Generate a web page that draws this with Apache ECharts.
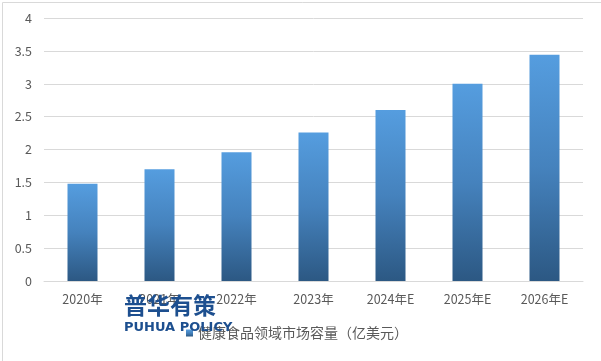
<!DOCTYPE html>
<html><head><meta charset="utf-8">
<script src="https://cdn.jsdelivr.net/npm/echarts@6/dist/echarts.min.js"></script>
<style>html,body{margin:0;padding:0;background:#fff}#c{width:601px;height:361px}</style>
</head><body><div id="c"></div>
<script>
const categories = ['2020年','2021年','2022年','2023年','2024年E','2025年E','2026年E'];
const values = [1.48, 1.70, 1.96, 2.26, 2.60, 3.00, 3.44];
const seriesName = '健康食品领域市场容量（亿美元）';
const chart = echarts.init(document.getElementById('c'));
const font = '"Microsoft YaHei","Noto Sans CJK SC",sans-serif';
chart.setOption({
  animation: false,
  textStyle: {fontFamily: font},
  grid: {left: 44, right: 18, top: 18, bottom: 80},
  legend: {
    data: [seriesName], bottom: 16, left: 181, itemWidth: 7, itemHeight: 7, itemGap: 3,
    icon: 'rect',
    textStyle: {color: '#595959', fontSize: 14, fontFamily: font}
  },
  xAxis: {
    type: 'category', data: categories,
    axisLine: {lineStyle: {color: '#d9d9d9'}},
    axisTick: {show: false},
    axisLabel: {color: '#595959', fontSize: 12.5, margin: 12, fontFamily: font}
  },
  yAxis: {
    type: 'value', min: 0, max: 4, interval: 0.5,
    axisLine: {show: false}, axisTick: {show: false},
    splitLine: {lineStyle: {color: '#d9d9d9'}},
    axisLabel: {color: '#595959', fontSize: 12.5, margin: 12, fontFamily: font}
  },
  series: [{
    name: seriesName, type: 'bar', data: values, barWidth: 30,
    itemStyle: {color: new echarts.graphic.LinearGradient(0,0,0,1,[
      {offset: 0, color: '#559ddf'}, {offset: 0.5, color: '#4582bd'}, {offset: 1, color: '#2c5883'}
    ])}
  }],
  graphic: [
    {type: 'rect', left: 0, top: 0, shape: {width: 600, height: 360}, style: {fill: 'none', stroke: '#d9d9d9', lineWidth: 1}, silent: true},
    {type: 'text', left: 124, top: 294, style: {text: '普华有策', fill: '#1d4f8f', font: 'bold 23px "Noto Sans CJK SC"'}, z: 10},
    {type: 'text', left: 124, top: 321, style: {text: 'PUHUA POLICY', fill: '#1d4f8f', font: 'bold 13px "DejaVu Sans"'}, z: 10}
  ]
});
</script></body></html>
